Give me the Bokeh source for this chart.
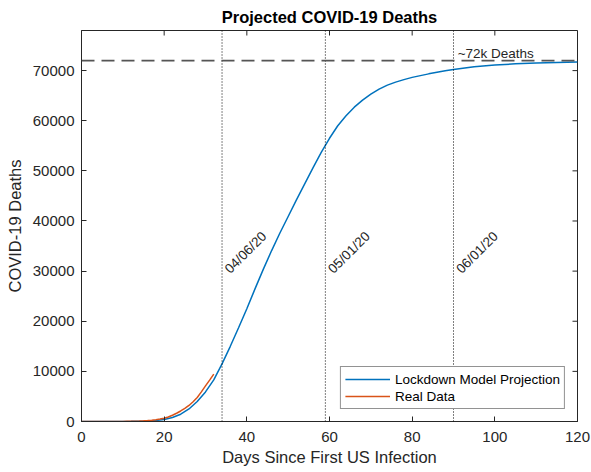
from bokeh.plotting import figure
from bokeh.models import (Span, Label, Legend, LegendItem, FixedTicker,
                          Range1d, ColumnDataSource, BasicTickFormatter)
from bokeh.embed import file_html
from bokeh.resources import INLINE
from bokeh.core.properties import value

# ---- data ----
proj_days = [0, 4, 8, 12, 14, 16, 18, 20, 22, 24, 26, 28, 30, 32, 34, 36, 38, 40, 42, 44,
             46, 48, 50, 52, 54, 56, 58, 60, 62, 64, 66, 68, 70, 72, 74, 76, 78, 80, 82,
             84, 86, 88, 90, 95, 100, 105, 110, 115, 120]
proj_deaths = [0, 5, 15, 40, 70, 120, 220, 400, 800, 1450, 2500, 4000, 5900, 8300, 11500,
               15000, 18700, 22500, 26500, 30400, 34100, 37600, 40900, 44200, 47400, 50600,
               53700, 56500, 59000, 61000, 62700, 64100, 65300, 66300, 67100, 67700, 68200,
               68650, 69000, 69350, 69650, 69950, 70200, 70750, 71100, 71350, 71500, 71620,
               71700]

real_days = list(range(0, 33))
real_deaths = [0, 0, 0, 0, 0, 1, 1, 2, 3, 6, 20, 30, 40, 60, 90, 130, 180, 250, 350, 480,
               650, 900, 1250, 1650, 2100, 2600, 3200, 3950, 4800, 5900, 7100, 8250, 9440]

event_days = [34, 59, 90]
event_labels = ["04/06/20", "05/01/20", "06/01/20"]
event_label_y = 30000

plateau = 72000
plateau_label = "~72k Deaths"
plateau_label_x = 91

x_ticks = [0, 20, 40, 60, 80, 100, 120]
y_ticks = [0, 10000, 20000, 30000, 40000, 50000, 60000, 70000]
x_lim = (0, 120)
y_lim = (0, 78000)
x_title = "Days Since First US Infection"
y_title = "COVID-19 Deaths"

FONT = "Liberation Sans"
AX = "#262626"

p = figure(width=591, height=472, output_backend="svg", toolbar_location=None,
           x_range=Range1d(*x_lim), y_range=Range1d(*y_lim),
           title="Projected COVID-19 Deaths", x_axis_label=x_title, y_axis_label=y_title,
           min_border_left=81, min_border_right=14, min_border_top=28, min_border_bottom=51)

p.title.align = "center"
p.title.text_font = FONT
p.title.text_font_size = "16.5px"
p.title.text_font_style = "bold"
p.title.text_color = "#000000"
p.title.standoff = 10

p.grid.visible = False
p.outline_line_color = AX
p.outline_line_width = 1
p.background_fill_color = "white"
p.border_fill_color = "white"

for ax, ticks in ((p.xaxis[0], x_ticks), (p.yaxis[0], y_ticks)):
    ax.ticker = FixedTicker(ticks=ticks)
    ax.formatter = BasicTickFormatter(use_scientific=False)
    ax.major_tick_in = 5
    ax.major_tick_out = 0
    ax.minor_tick_line_color = None
    ax.major_tick_line_color = AX
    ax.axis_line_color = AX
    ax.major_label_text_font = FONT
    ax.major_label_text_font_size = "15px"
    ax.major_label_text_color = AX
    ax.axis_label_text_font = FONT
    ax.axis_label_text_font_size = "16.5px"
    ax.axis_label_text_font_style = "normal"
    ax.axis_label_text_color = AX
p.xaxis[0].major_label_standoff = 10
p.xaxis[0].axis_label_standoff = 3
p.yaxis[0].major_label_standoff = 7
p.yaxis[0].axis_label_standoff = 6

# mirrored inward ticks on top and right (clipped to the frame, half visible)
p.scatter(x=x_ticks, y=[y_lim[1]] * len(x_ticks), marker="dash", angle=90,
          angle_units="deg", size=10, line_color=AX, line_width=1)
p.scatter(x=[x_lim[1]] * len(y_ticks), y=y_ticks, marker="dash", size=10,
          line_color=AX, line_width=1)

# reference lines
for d in event_days:
    p.add_layout(Span(location=d, dimension="height", line_color="#000000",
                      line_dash="1 2", line_width=1))
p.add_layout(Span(location=plateau, dimension="width", line_color="#555555",
                  line_dash="13 7", line_width=1.6))

proj = p.line(proj_days, proj_deaths, line_color="#0072BD", line_width=1.5)
real = p.line(real_days, real_deaths, line_color="#D95319", line_width=1.5)

lbl_src = ColumnDataSource(dict(x=event_days, y=[event_label_y] * len(event_days),
                                t=event_labels))
p.text(x="x", y="y", text="t", source=lbl_src, angle=45, angle_units="deg",
       text_align="left", text_baseline="middle", x_offset=5,
       text_font=value(FONT), text_font_size="13.5px", text_color=AX)

p.add_layout(Label(x=plateau_label_x, y=plateau, text=plateau_label, text_align="left",
                   text_baseline="bottom", text_font=FONT, text_font_size="13.5px",
                   text_color=AX))

legend = Legend(items=[LegendItem(label="Lockdown Model Projection", renderers=[proj]),
                       LegendItem(label="Real Data", renderers=[real])],
                location="bottom_right")
legend.label_text_font = FONT
legend.label_text_font_size = "13.5px"
legend.label_text_color = "#000000"
legend.glyph_width = 45
legend.glyph_height = 16
legend.label_height = 16
legend.label_standoff = 5
legend.padding = 4
legend.spacing = 1
legend.margin = 12
legend.border_line_color = AX
legend.border_line_width = 1
legend.background_fill_alpha = 1
p.add_layout(legend)

open("out.html", "w").write(file_html(p, INLINE))
